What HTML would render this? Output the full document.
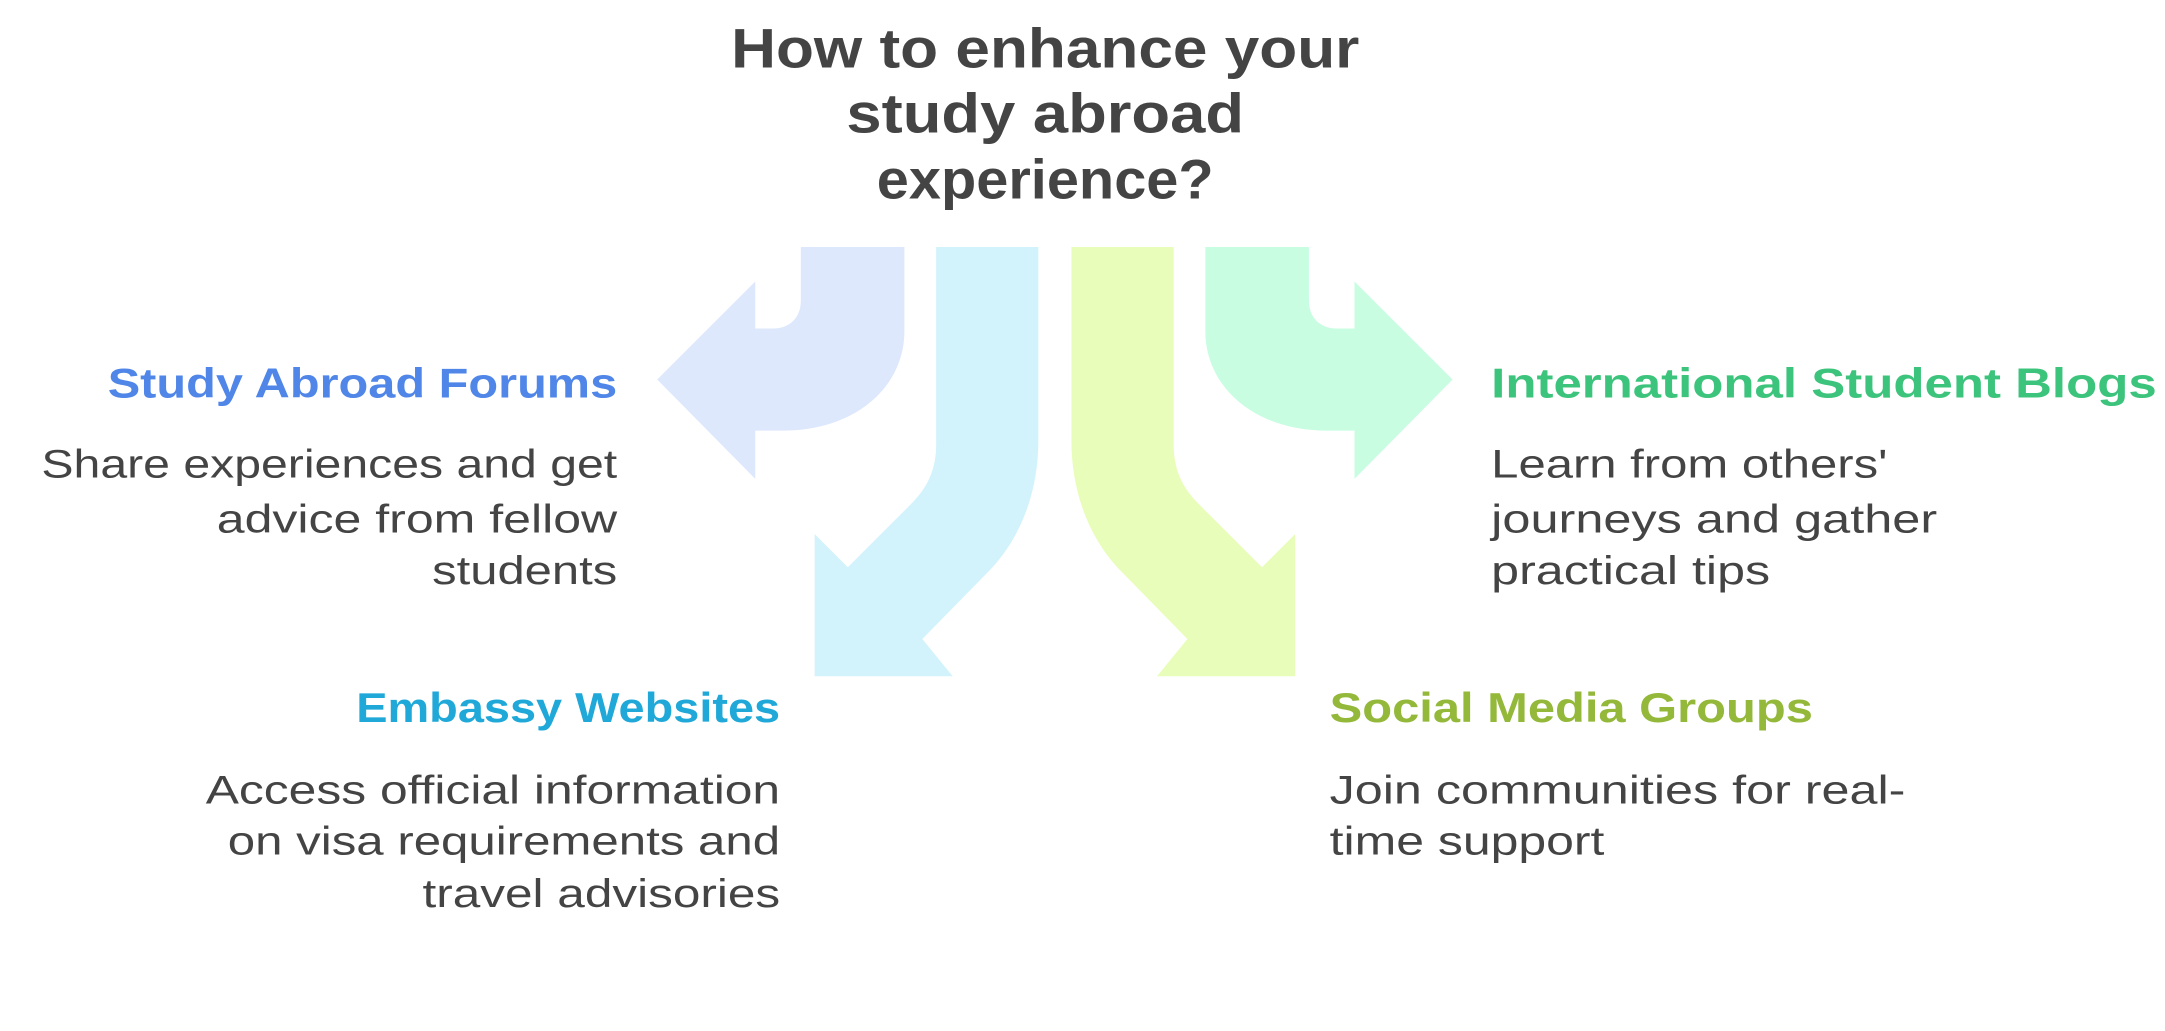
<!DOCTYPE html>
<html><head><meta charset="utf-8"><style>
html,body{margin:0;padding:0;background:#fff;width:2165px;height:1031px;overflow:hidden}
svg{display:block}
text{font-family:"Liberation Sans",sans-serif}
.t{font-size:40px;font-weight:bold;fill:#444}
.h{font-size:30px;font-weight:bold}
.b{font-size:29px;fill:#444}
</style></head><body>
<svg width="2165" height="1031" viewBox="0 0 1568 747" preserveAspectRatio="none">
<path fill="#dde8fd" d="M580,179 L655,179 L655,240 C655,280 620,312 567,312 L547,312 L547,347 L476,275 L547,204 L547,238 L560,238 C572,238 580,230 580,218 Z"/>
<path fill="#d2f3fc" d="M678,179 L752,179 L752,320 C752,355 740,390 715,415 L668,463 L690,490 L590,490 L590,387 L614,411 L660,365 C672,353 678,340 678,322 Z"/>
<path fill="#e8fdb9" d="M850,179 L776,179 L776,320 C776,355 788,390 813,415 L860,463 L838,490 L938,490 L938,387 L914,411 L868,365 C856,353 850,340 850,322 Z"/>
<path fill="#c8fde2" d="M948,179 L873,179 L873,240 C873,280 908,312 961,312 L981,312 L981,347 L1052,275 L981,204 L981,238 L968,238 C956,238 948,230 948,218 Z"/>

<text class="t" x="757" y="49" text-anchor="middle" textLength="455" lengthAdjust="spacingAndGlyphs">How to enhance your</text>
<text class="t" x="757" y="96" text-anchor="middle" textLength="288" lengthAdjust="spacingAndGlyphs">study abroad</text>
<text class="t" x="757" y="144" text-anchor="middle" textLength="244" lengthAdjust="spacingAndGlyphs">experience?</text>

<text class="h" x="447" y="288" text-anchor="end" fill="#4f86e8" textLength="369" lengthAdjust="spacingAndGlyphs">Study Abroad Forums</text>
<text class="b" x="447" y="346" text-anchor="end" textLength="417" lengthAdjust="spacingAndGlyphs">Share experiences and get</text>
<text class="b" x="447" y="386" text-anchor="end" textLength="290" lengthAdjust="spacingAndGlyphs">advice from fellow</text>
<text class="b" x="447" y="423" text-anchor="end" textLength="134" lengthAdjust="spacingAndGlyphs">students</text>

<text class="h" x="565" y="523" text-anchor="end" fill="#1fa8d8" textLength="307" lengthAdjust="spacingAndGlyphs">Embassy Websites</text>
<text class="b" x="565" y="582" text-anchor="end" textLength="416" lengthAdjust="spacingAndGlyphs">Access official information</text>
<text class="b" x="565" y="619" text-anchor="end" textLength="400" lengthAdjust="spacingAndGlyphs">on visa requirements and</text>
<text class="b" x="565" y="657" text-anchor="end" textLength="259" lengthAdjust="spacingAndGlyphs">travel advisories</text>

<text class="h" x="1080" y="288" fill="#3cc47c" textLength="482" lengthAdjust="spacingAndGlyphs">International Student Blogs</text>
<text class="b" x="1080" y="346" textLength="287" lengthAdjust="spacingAndGlyphs">Learn from others'</text>
<text class="b" x="1080" y="386" textLength="323" lengthAdjust="spacingAndGlyphs">journeys and gather</text>
<text class="b" x="1080" y="423" textLength="202" lengthAdjust="spacingAndGlyphs">practical tips</text>

<text class="h" x="963" y="523" fill="#93b83a" textLength="350" lengthAdjust="spacingAndGlyphs">Social Media Groups</text>
<text class="b" x="963" y="582" textLength="417" lengthAdjust="spacingAndGlyphs">Join communities for real-</text>
<text class="b" x="963" y="619" textLength="199" lengthAdjust="spacingAndGlyphs">time support</text>
</svg>
</body></html>
